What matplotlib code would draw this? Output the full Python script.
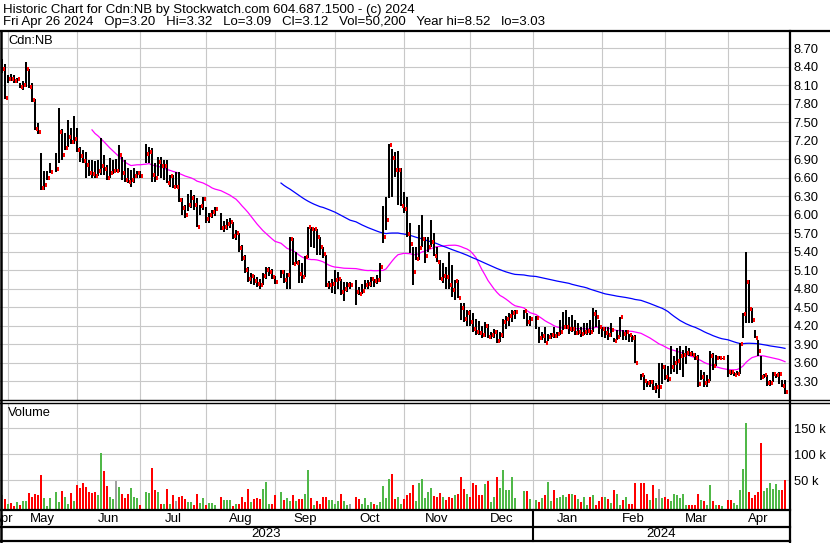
import numpy as np
import pandas as pd
import matplotlib
matplotlib.use("Agg")
import matplotlib.pyplot as plt
from matplotlib.lines import Line2D
from matplotlib.transforms import blended_transform_factory

plt.rcParams['font.family'] = ['Liberation Sans', 'DejaVu Sans']

# ---------------- data ----------------
first_day, last_day = '2023-04-27', '2024-04-26'
holidays = ['2023-05-22', '2023-07-03', '2023-08-07', '2023-09-04', '2023-10-09',
            '2023-12-25', '2023-12-26', '2024-01-01', '2024-02-19', '2024-03-29']

high = [
    8.52, 8.44,
    8.26, 8.28, 8.26, 8.21, 8.13, 8.16, 8.47, 8.36, 8.13, 7.88, 7.49, 6.99, 6.71, 6.70, 6.83, 6.99, 7.72, 7.38, 7.32, 7.53, 7.40, 7.60,
    7.40, 7.10, 7.05, 7.02, 6.88, 6.88, 6.86, 6.88, 7.24, 6.96, 6.80, 6.91, 6.88, 6.90, 7.13, 6.94, 6.88, 6.75, 6.72, 6.75, 6.70, 6.70,
    7.15, 7.10, 7.08, 6.83, 6.94, 6.94, 6.88, 6.88, 6.64, 6.64, 6.69, 6.69, 6.26, 6.15, 6.34, 6.40, 6.32, 6.26, 6.15, 6.29,
    6.12, 6.02, 6.07, 6.12, 6.02, 5.90, 5.92, 5.95, 5.88, 5.75, 5.70, 5.50, 5.35, 5.15, 5.05, 5.02, 4.98, 4.95, 5.05, 5.15, 5.15, 5.12,
    5.00, 5.10, 5.10, 5.05, 5.64, 5.62, 5.40, 5.26, 5.21, 5.32, 5.80, 5.79, 5.78, 5.77, 5.63, 5.48, 5.34, 4.92, 4.95, 5.10,
    5.07, 4.96, 4.90, 4.90, 4.90, 4.94, 4.83, 4.88, 4.94, 4.94, 4.99, 4.96, 5.02, 5.21, 6.13, 6.29, 7.14, 7.07, 7.02, 7.03, 6.75,
    6.37, 6.29, 5.86, 5.48, 5.48, 5.83, 6.00, 5.64, 5.64, 5.91, 5.70, 5.47, 5.26, 5.21, 5.15, 5.40, 5.18, 4.94, 4.94, 4.56, 4.56, 4.45,
    4.45, 4.40, 4.30, 4.28, 4.20, 4.25, 4.22, 4.10, 4.15, 4.12, 4.10, 4.30, 4.35, 4.40, 4.45, 4.45, 4.45, 4.40, 4.35,
    4.35, 4.18, 4.10, 4.18, 4.06, 4.08, 4.18, 4.10, 4.29, 4.42, 4.45, 4.34, 4.37, 4.29, 4.24, 4.18, 4.24, 4.24, 4.29, 4.48, 4.45, 4.29,
    4.18, 4.18, 4.18, 4.24, 3.99, 4.13, 4.34, 4.13, 4.13, 4.07, 4.05, 4.05, 3.42, 3.40, 3.30, 3.32, 3.32, 3.26, 3.59, 3.59,
    3.56, 3.55, 3.86, 3.70, 3.83, 3.86, 3.80, 3.86, 3.83, 3.78, 3.75, 3.72, 3.48, 3.45, 3.40, 3.78, 3.75, 3.72, 3.70, 3.68,
    3.72, 3.48, 3.45, 3.46, 3.91, 4.40, 5.40, 4.94, 4.48, 4.13, 3.97, 3.70, 3.42, 3.40, 3.32, 3.45, 3.42, 3.45, 3.32, 3.32,
]
low = [
    8.30, 7.88,
    8.13, 8.16, 8.13, 8.13, 8.05, 8.02, 8.07, 8.05, 7.83, 7.37, 7.31, 6.40, 6.40, 6.56, 6.67, 6.69, 6.83, 6.88, 7.05, 7.10, 7.15, 7.15,
    7.02, 6.85, 6.83, 6.59, 6.62, 6.60, 6.59, 6.62, 6.64, 6.64, 6.56, 6.60, 6.66, 6.69, 6.69, 6.56, 6.53, 6.51, 6.45, 6.51, 6.60, 6.60,
    6.83, 6.83, 6.53, 6.53, 6.62, 6.59, 6.56, 6.51, 6.45, 6.43, 6.43, 6.21, 5.99, 5.95, 6.05, 6.10, 6.07, 5.80, 5.99, 6.07,
    5.86, 5.86, 5.94, 5.98, 5.75, 5.72, 5.75, 5.78, 5.60, 5.58, 5.40, 5.25, 5.05, 4.90, 4.88, 4.85, 4.82, 4.80, 4.85, 4.95, 5.00, 4.95,
    4.88, 4.97, 4.89, 4.80, 4.80, 5.18, 5.20, 4.89, 4.89, 4.99, 5.30, 5.48, 5.45, 5.34, 5.34, 5.30, 4.83, 4.80, 4.72, 4.71,
    4.80, 4.70, 4.60, 4.75, 4.80, 4.53, 4.69, 4.71, 4.80, 4.80, 4.83, 4.83, 4.88, 4.91, 5.53, 5.75, 6.27, 6.29, 6.61, 6.15, 6.13,
    6.02, 5.64, 5.37, 4.86, 5.26, 5.26, 5.47, 5.21, 5.40, 5.47, 5.32, 5.23, 4.94, 4.89, 4.80, 4.80, 4.67, 4.61, 4.64, 4.29, 4.25, 4.20,
    4.20, 4.10, 4.05, 4.05, 4.00, 4.02, 4.00, 3.98, 4.00, 3.92, 3.94, 4.00, 4.15, 4.20, 4.25, 4.30, 4.30, 4.20, 4.20,
    4.15, 3.91, 3.97, 3.91, 3.95, 3.98, 4.00, 4.00, 4.05, 4.13, 4.15, 4.07, 4.10, 4.05, 4.05, 4.02, 4.05, 4.05, 4.05, 4.10, 4.18, 4.07,
    4.02, 4.00, 3.97, 4.02, 3.93, 3.97, 4.02, 3.97, 3.97, 3.94, 3.94, 3.59, 3.32, 3.15, 3.20, 3.21, 3.15, 3.10, 3.03, 3.25,
    3.32, 3.28, 3.42, 3.45, 3.42, 3.48, 3.37, 3.58, 3.70, 3.70, 3.64, 3.21, 3.32, 3.21, 3.21, 3.30, 3.48, 3.54, 3.65, 3.66,
    3.37, 3.40, 3.38, 3.40, 3.42, 3.99, 4.24, 4.24, 4.24, 3.99, 3.70, 3.32, 3.35, 3.22, 3.22, 3.28, 3.35, 3.25, 3.20, 3.09,
]
close = [
    8.36, 7.89,
    8.20, 8.19, 8.17, 8.20, 8.07, 8.10, 8.36, 8.06, 7.86, 7.39, 7.33, 6.43, 6.48, 6.60, 6.69, 6.74, 7.34, 6.97, 7.08, 7.26, 7.18, 7.22,
    7.04, 6.95, 6.87, 6.81, 6.68, 6.65, 6.62, 6.71, 6.79, 6.74, 6.60, 6.67, 6.70, 6.70, 6.97, 6.67, 6.56, 6.53, 6.56, 6.62, 6.67, 6.62,
    6.98, 7.02, 6.64, 6.60, 6.85, 6.78, 6.79, 6.51, 6.62, 6.45, 6.45, 6.23, 6.10, 5.99, 6.15, 6.26, 6.15, 5.80, 6.13, 6.25,
    5.93, 5.99, 6.04, 6.09, 5.78, 5.80, 5.85, 5.88, 5.65, 5.70, 5.45, 5.30, 5.10, 4.95, 5.00, 4.92, 4.88, 4.85, 5.00, 5.10, 5.07, 4.98,
    4.90, 5.07, 4.93, 5.02, 5.60, 5.20, 5.22, 5.03, 4.99, 5.31, 5.79, 5.76, 5.77, 5.63, 5.47, 5.36, 4.85, 4.86, 4.88, 4.93,
    4.96, 4.75, 4.80, 4.85, 4.85, 4.75, 4.71, 4.76, 4.86, 4.87, 4.96, 4.92, 4.94, 5.15, 5.63, 5.91, 7.13, 6.91, 6.72, 6.72, 6.13,
    6.09, 5.68, 5.52, 5.06, 5.28, 5.45, 5.61, 5.33, 5.48, 5.55, 5.32, 5.23, 4.95, 5.01, 4.98, 4.85, 4.78, 4.92, 4.64, 4.48, 4.30, 4.40,
    4.25, 4.15, 4.10, 4.08, 4.05, 4.20, 4.02, 4.05, 4.10, 3.95, 4.05, 4.25, 4.30, 4.35, 4.40, 4.42, 4.43, 4.25, 4.30,
    4.32, 3.99, 4.03, 3.92, 4.02, 4.04, 4.03, 4.06, 4.10, 4.17, 4.18, 4.14, 4.15, 4.08, 4.10, 4.07, 4.10, 4.11, 4.09, 4.39, 4.33, 4.18,
    4.14, 4.08, 4.05, 4.13, 3.95, 4.02, 4.33, 4.07, 4.10, 4.04, 3.99, 3.60, 3.39, 3.30, 3.26, 3.28, 3.18, 3.20, 3.20, 3.53,
    3.36, 3.33, 3.53, 3.60, 3.62, 3.70, 3.72, 3.75, 3.74, 3.72, 3.68, 3.25, 3.37, 3.27, 3.30, 3.70, 3.54, 3.68, 3.67, 3.67,
    3.45, 3.44, 3.40, 3.42, 3.90, 4.39, 4.91, 4.46, 4.29, 3.99, 3.78, 3.37, 3.39, 3.26, 3.27, 3.41, 3.39, 3.41, 3.22, 3.12,
]
# volume in thousands of shares
volume_k = [
    21.8, 14,
    4.5, 7, 1.3, 9, 2.6, 10, 10, 25.6, 18, 24, 22, 60, 15, 1, 15, 28, 8, 29, 18.6, 4.5, 25.6, 10,
    41, 35, 44, 37, 27, 25.6, 28, 22, 102, 67, 39, 18, 14, 49, 37, 24, 16, 24, 35, 18, 15, 2.6,
    27.6, 26, 74, 32, 27.6, 4.5, 4.5, 33, 4.5, 22, 10, 18.6, 20.5, 13.5, 8, 8, 3, 24, 6, 16,
    2.6, 6, 6, 2.6, 17, 13, 13, 13, 0.5, 4.5, 4.5, 18, 8, 33, 8, 14, 15, 14, 33, 46, 4.5, 4.5,
    22, 27, 12, 15, 10, 22, 10, 14, 14, 24, 70, 16, 2.6, 10, 4.5, 18, 18, 12, 12, 4.5,
    10, 24, 10, 2.6, 4.5, 18, 14, 4.5, 16, 2.6, 8, 4.5, 2.6, 8, 39, 16, 52, 62, 14, 18, 4.5,
    14, 22, 26, 41, 10, 44, 52, 16.7, 28, 35, 20.5, 18.6, 25.6, 18, 11.5, 18, 15, 22, 24, 56, 33, 24,
    18, 45, 40, 22, 22, 43, 49, 8, 18, 56, 35, 70, 31, 31, 56, 16, 29.5, 29.5, 14,
    12, 9, 15, 22, 46, 10, 31, 15, 18, 22, 18.6, 24, 24, 22, 14, 9, 18.6, 2.6, 18.6, 22, 2.6, 10,
    18.6, 18, 14, 6, 32, 24, 2, 12, 18, 5, 5, 45, 45, 45, 24, 12, 40, 16, 33, 16,
    18, 14, 10, 24, 22, 16, 24, 2.6, 2.6, 2.6, 2.6, 24, 11.5, 10, 2.6, 41, 10, 2, 2.6, 1,
    12, 12, 6, 2.6, 31, 72, 161, 28, 16.7, 22, 28, 122, 29.5, 36, 45, 33, 42, 31, 31, 50.2,
]
# day direction shown by the volume colour: 1 up, -1 down, 0 unchanged
day_dir = [
    0, -1,
    1, -1, -1, 1, -1, 1, 1, -1, -1, -1, -1, -1, 1, 1, 1, 1, 1, -1, 1, 1, -1, 1,
    -1, -1, -1, -1, -1, -1, -1, 1, 1, -1, -1, 1, 1, 0, 1, -1, -1, -1, 1, 1, 1, -1,
    1, 1, -1, -1, 1, -1, 1, -1, 1, -1, 0, -1, -1, -1, 1, 1, -1, -1, 1, 1,
    -1, 1, 1, 1, -1, 1, 1, 1, -1, 1, -1, -1, -1, -1, 1, -1, -1, -1, 1, 1, 1, -1,
    -1, 1, -1, 1, 1, -1, 1, -1, -1, 1, 1, -1, 1, -1, -1, -1, -1, 1, 1, 1,
    1, -1, 1, 1, 0, -1, -1, 1, 1, 1, 1, -1, 1, 1, 1, 1, 1, -1, -1, 1, 1,
    -1, -1, -1, -1, 1, 1, 1, 1, 1, 1, -1, -1, -1, 1, -1, -1, -1, 1, -1, -1, -1, 1,
    -1, -1, -1, -1, -1, 1, -1, 1, 1, -1, 1, 1, 1, 1, 1, 1, 1, -1, 1,
    1, -1, 1, -1, 1, 1, -1, 1, 1, 1, 1, -1, 1, -1, 1, -1, 1, 1, -1, 1, -1, -1,
    -1, 1, -1, 1, -1, 1, 1, -1, 1, -1, -1, -1, -1, -1, -1, 1, -1, 1, 0, 1,
    -1, -1, 1, 1, 1, 1, 1, 1, -1, -1, -1, -1, 1, -1, 1, 1, -1, 1, -1, 1,
    -1, -1, 1, 1, 1, 1, 1, -1, -1, -1, -1, -1, 1, 1, 1, 1, 1, 1, -1, -1,
]
price_ticks = [3.30, 3.60, 3.90, 4.20, 4.50, 4.80, 5.10, 5.40, 5.70, 6.00, 6.30,
               6.60, 6.90, 7.20, 7.50, 7.80, 8.10, 8.40, 8.70]
volume_ticks = [50000, 100000, 150000]
volume_tick_labels = ['50 k', '100 k', '150 k']
ma_fast, ma_slow = 30, 90
title1 = 'Historic Chart for Cdn:NB by Stockwatch.com 604.687.1500 - (c) 2024'
title2 = ('Fri Apr 26 2024   Op=3.20   Hi=3.32   Lo=3.09   Cl=3.12   Vol=50,200   '
          'Year hi=8.52   lo=3.03')

# ---------------- positions ----------------
dates = pd.bdate_range(first_day, last_day)
dates = dates[~dates.isin(pd.to_datetime(holidays))]
d64 = dates.values.astype('datetime64[D]')
pos = np.busday_count(np.datetime64(first_day), d64).astype(float)
assert len(dates) == len(high) == len(low) == len(close) == len(volume_k) == len(day_dir)

high = np.array(high); low = np.array(low); close = np.array(close)
vol = np.array(volume_k) * 1000.0
ma1 = pd.Series(close).rolling(ma_fast).mean().values
ma2 = pd.Series(close).rolling(ma_slow).mean().values

# month gridlines (first weekday on/before the 1st)
months = pd.date_range('2023-05-01', '2024-04-01', freq='MS')
mpos = np.array([np.busday_count(np.datetime64(first_day),
                 np.busday_offset(np.datetime64(m.date()), 0, roll='backward'))
                 for m in months], dtype=float)
mnames = ['Apr'] + [m.strftime('%b') for m in months]

# ---------------- figure ----------------
W, H = 830, 543
fig = plt.figure(figsize=(W / 100, H / 100), dpi=100)
fig.patch.set_facecolor('white')

def fr(x0, y0, x1, y1):
    return [x0 / W, 1 - y1 / H, (x1 - x0) / W, (y1 - y0) / H]

XL = (-2 / 3, 787 / 3)
GRID = '#c8c8c8'
ax = fig.add_axes(fr(0, 31, 789, 400))
axv = fig.add_axes(fr(0, 404, 789, 509))

for a in (ax, axv):
    a.set_xlim(*XL)
    for s in a.spines.values():
        s.set_visible(False)
    a.set_xticks([])
    a.yaxis.tick_right()
    a.tick_params(axis='y', length=0, pad=3.5, labelsize=9.3, labelcolor='black')
    for m in mpos:
        a.axvline(m, color=GRID, lw=0.8, zorder=0)

# price panel
ax.set_ylim(2.992, 8.976)
ax.set_yticks(price_ticks)
ax.set_yticklabels([f'{t:.2f}' for t in price_ticks])
for t in price_ticks:
    ax.axhline(t, color=GRID, lw=0.8, zorder=0)
ax.vlines(pos, low, high, color='black', lw=1.1, zorder=3, antialiased=False)
ax.hlines(close, pos + 0.2, pos + 1.0, color='#ff0000', lw=1.5, zorder=4,
          antialiased=False)
ax.plot(pos, ma1, color='#ff00ff', lw=0.9, zorder=2)
ax.plot(pos, ma2, color='#0000ff', lw=0.9, zorder=2)
ax.text(8 / 789, 1 - 10 / 369, 'Cdn:NB', transform=ax.transAxes, fontsize=9.3,
        va='center', ha='left')

# volume panel
vb = -5200
axv.set_ylim(vb, 196700)
axv.set_yticks(volume_ticks)
axv.set_yticklabels(volume_tick_labels)
for t in volume_ticks:
    axv.axhline(t, color=GRID, lw=0.8, zorder=0)
cmap = {1: '#50b848', -1: '#ff0000', 0: '#a0a0a0'}
axv.bar(pos, vol - vb, bottom=vb, width=0.67, color=[cmap[d] for d in day_dir],
        zorder=3, linewidth=0, antialiased=False)
axv.text(8 / 789, 1 - 9 / 105, 'Volume', transform=axv.transAxes, fontsize=9.3,
         va='center', ha='left')

# date strip
tr = blended_transform_factory(axv.transData, fig.transFigure)
bounds = np.concatenate([[-1.0], mpos, [XL[1]]])
for i, name in enumerate(mnames):
    c = (bounds[i] + bounds[i + 1]) / 2
    fig.text(c, 1 - 519 / H, name, transform=tr, ha='center', va='center', fontsize=9.5)
jan = mpos[list(months.strftime('%Y-%m')).index('2024-01')]
fig.text((XL[0] + jan) / 2, 1 - 534 / H, '2023', transform=tr, ha='center', va='center', fontsize=9.5)
fig.text((jan + XL[1]) / 2, 1 - 534 / H, '2024', transform=tr, ha='center', va='center', fontsize=9.5)
fig.add_artist(Line2D([jan, jan], [1 - 510 / H, 1 - 541 / H], transform=tr,
                      color='black', lw=1.5))

# frame lines (pixel coordinates)
def hline(y, x0, x1, lw):
    fig.add_artist(Line2D([x0 / W, x1 / W], [1 - y / H, 1 - y / H], color='black', lw=lw))

def vline(x, y0, y1, lw):
    fig.add_artist(Line2D([x / W, x / W], [1 - y0 / H, 1 - y1 / H], color='black', lw=lw))

hline(31, 0, 830, 1.6)
hline(400, 0, 830, 1.0)
hline(403, 0, 830, 1.0)
hline(510, 0, 790, 1.6)
hline(527, 0, 790, 1.6)
hline(541, 0, 790, 1.6)
vline(1, 31, 542, 1.8)
vline(789.5, 31, 543, 1.6)

# header
fig.text(3 / W, 1 - 9.5 / H, title1, fontsize=9.5, ha='left', va='center')
fig.text(3 / W, 1 - 22 / H, title2, fontsize=9.5, ha='left', va='center')

fig.savefig('out.png', dpi=100, facecolor='white')
